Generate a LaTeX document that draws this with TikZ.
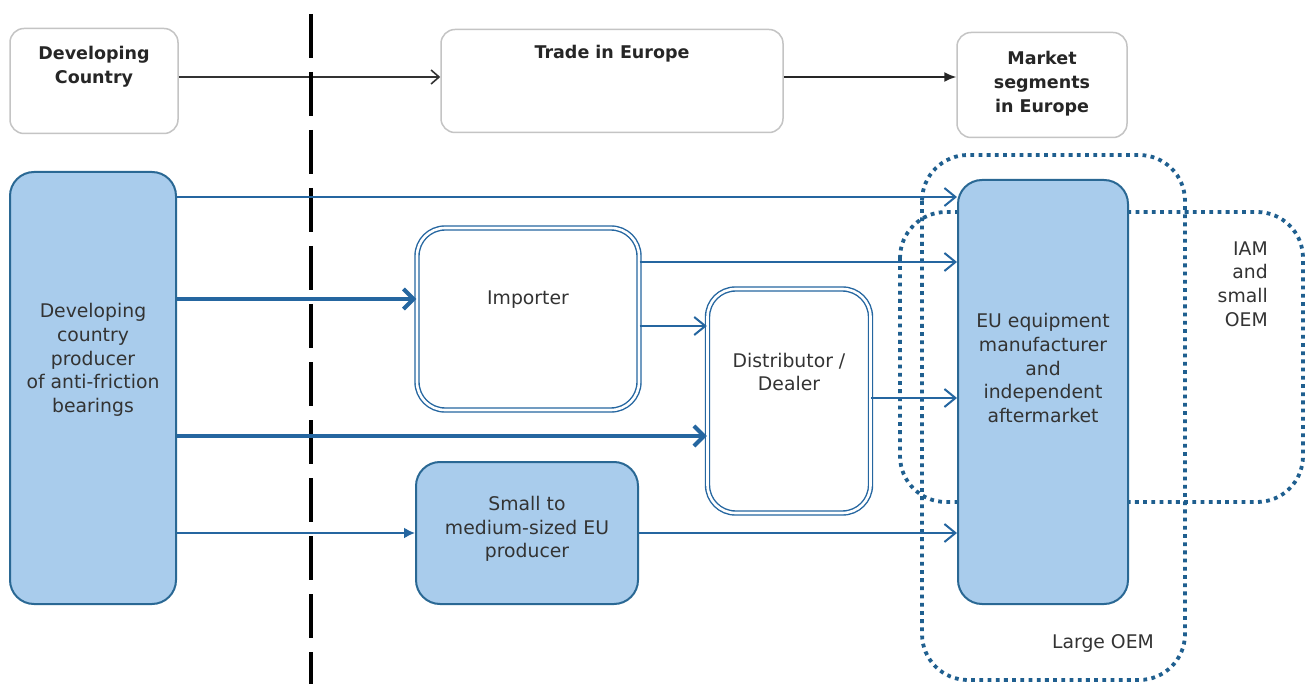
\documentclass[tikz,border=0pt]{standalone}
\usepackage{fontspec}
\setsansfont{DejaVu Sans}
\usetikzlibrary{arrows.meta}
\definecolor{bfill}{HTML}{A9CCEC}
\definecolor{bline}{HTML}{2A6894}
\definecolor{arr}{HTML}{2566A0}
\definecolor{dotc}{HTML}{1F5F8F}
\definecolor{hdr}{HTML}{C4C4C4}
\definecolor{txt}{HTML}{333333}
\begin{document}
\begin{tikzpicture}[x=1pt,y=-1pt,
  font=\sffamily\fontsize{18.8pt}{23.8pt}\selectfont,
  hbox/.style={draw=hdr,line width=1.5pt,rounded corners=14pt,fill=white,inner sep=0pt},
  fbox/.style={draw=bline,line width=2pt,fill=bfill,rounded corners=24pt,inner sep=0pt},
  dbox/.style={draw=arr,line width=1.4pt,double=white,double distance=2.6pt,rounded corners=28pt,inner sep=0pt},
  lbl/.style={text=txt,align=center,inner sep=0pt},
  hlbl/.style={text=black!85,align=center,inner sep=0pt,font=\sffamily\bfseries\fontsize{17.5pt}{24pt}\selectfont},
  thin/.style={draw=arr,line width=2pt,-{Straight Barb[length=11pt,width=18pt,line width=2pt]}},
  thick/.style={draw=arr,line width=4pt,-{Straight Barb[length=10pt,width=20pt,line width=4pt]}},
  dotr/.style={draw=dotc,line width=3.8pt,dash pattern=on 3.8pt off 4.4pt,rounded corners=46pt}
]
\useasboundingbox (0,0) rectangle (1308,684);
\fill[white] (0,0) rectangle (1308,684);

% header boxes
\node[hbox,minimum width=168pt,minimum height=105pt] (dc) at (94,81) {};
\node[hbox,minimum width=342pt,minimum height=103pt] (te) at (612,81) {};
\node[hbox,minimum width=170pt,minimum height=105pt] (ms) at (1042,85) {};
\node[hlbl] (dct) at (94,67) {Developing\\Country};
\node[hlbl] (tet) at (612,54) {Trade in Europe};
\node[hlbl] (mst) at (1042,84) {Market\\segments\\in Europe};
\draw[line width=1.6pt,black!80,-{Straight Barb[length=8pt,width=14pt,line width=1.6pt]}] (dc.east |- 0,77) -- (te.west |- 0,77);
\draw[line width=1.6pt,black!85,-{Latex[length=12pt,width=10pt]}] (te.east |- 0,77) -- (ms.west |- 0,77);

% dashed divider
\coordinate (dtop) at (311,14);
\coordinate (dbot) at (311,684);
\draw[black,line width=4.5pt,dash pattern=on 44pt off 14pt] (dtop) -- (dbot);

% dotted regions
\draw[dotr] (922,155) rectangle (1185,680);
\draw[dotr] (900,212) rectangle (1303,502);
\node[lbl,align=right,anchor=east] (iam) at (1268,284) {IAM\\and\\small\\OEM};
\node[lbl] (loem) at (1103,643) {Large OEM};

% main boxes
\node[fbox,minimum width=166pt,minimum height=432pt] (prod) at (93,388) {};
\node[lbl] (prodt) at (93,360) {Developing\\country\\producer\\of anti-friction\\bearings};
\node[dbox,minimum width=222pt,minimum height=182pt] (imp) at (528,319) {};
\node[lbl] (impt) at (528,300) {Importer};
\node[dbox,minimum width=163pt,minimum height=224pt] (dist) at (789,401) {};
\node[lbl] (distt) at (789,372) {Distributor /\\Dealer};
\node[fbox,minimum width=222pt,minimum height=142pt] (sm) at (527,533) {};
\node[lbl] (smt) at (527,529) {Small to\\medium-sized EU\\producer};
\node[fbox,minimum width=170pt,minimum height=424pt] (eu) at (1043,392) {};
\node[lbl] (eut) at (1043,368) {EU equipment\\manufacturer\\and\\independent\\aftermarket};

% connectors
\draw[thin] (prod.east |- 0,197) -- (eu.west |- 0,197);
\draw[thick] (prod.east |- 0,299) -- (imp.west |- 0,299);
\draw[thick] (prod.east |- 0,436) -- (dist.west |- 0,436);
\draw[draw=arr,line width=2pt,-{Latex[length=11pt,width=11pt]}] (prod.east |- 0,533) -- (sm.west |- 0,533);
\draw[thin] (imp.east |- 0,262) -- (eu.west |- 0,262);
\draw[thin] (imp.east |- 0,326) -- (dist.west |- 0,326);
\draw[thin] (dist.east |- 0,398) -- (eu.west |- 0,398);
\draw[thin] (sm.east |- 0,533) -- (eu.west |- 0,533);
\end{tikzpicture}
\end{document}
